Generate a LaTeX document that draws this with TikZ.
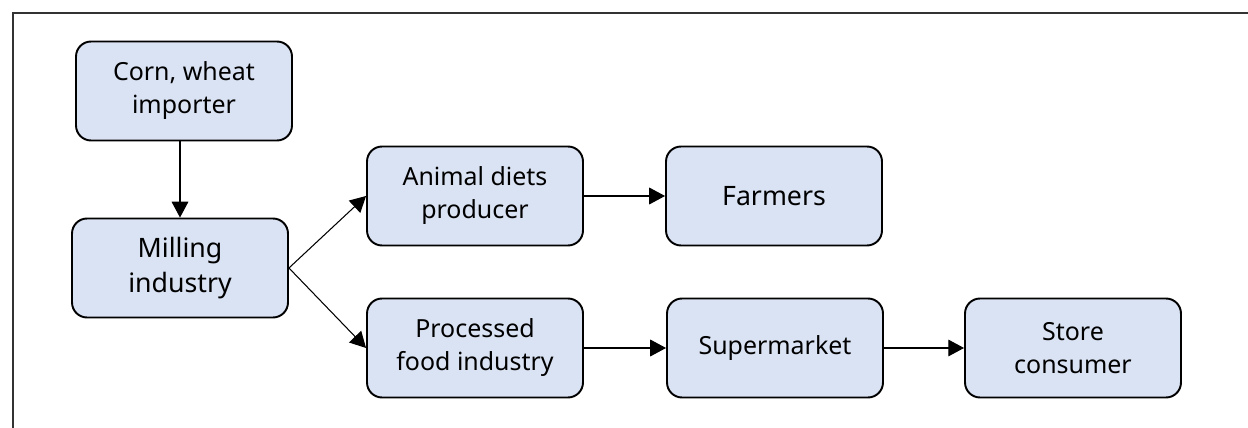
\documentclass[tikz,border=0pt]{standalone}
\usepackage{fontspec}
\setmainfont{Noto Sans}
\usepackage{tikz}
\usetikzlibrary{arrows.meta}
\usepackage{xcolor}
\definecolor{boxfill}{HTML}{DAE3F3}
\definecolor{framegray}{HTML}{333333}

\begin{document}
\begin{tikzpicture}[
    x=0.02cm, y=-0.02cm,
    stage/.style={
        draw=black,
        line width=1.1pt,
        rounded corners=0.3cm,
        minimum width=4.32cm,
        minimum height=1.98cm,
        fill=boxfill,
        align=center,
        font=\fontsize{14.2}{18.8}\selectfont,
        inner sep=2pt,
    },
    bigstage/.style={
        stage,
        font=\fontsize{15.2}{19.5}\selectfont,
    },
    flow/.style={
        draw=black,
        line width=0.6pt,
        -{Triangle[length=9pt, width=9.5pt]},
    },
]

\useasboundingbox (0,0) rectangle (1248,428);
\draw[framegray, line width=1.2pt] (1248,13) -- (13,13) -- (13,428);

\node[stage] (corn) at (184, 91) {Corn, wheat\\importer};
\node[bigstage] (mill) at (180, 268) {Milling\\industry};
\node[stage] (animal) at (475, 196) {Animal diets\\producer};
\node[stage] (proc) at (475, 348) {Processed\\food industry};
\node[bigstage] (farm) at (774, 196) {Farmers};
\node[stage] (super) at (775, 348) {Supermarket};
\node[stage] (store) at (1073, 348) {Store\\consumer};

\draw[flow] (mill.north |- corn.south) -- (mill.north);
\draw[flow] (mill.east) -- (animal.west);
\draw[flow] (mill.east) -- (proc.west);
\draw[flow] (animal) -- (farm);
\draw[flow] (proc) -- (super);
\draw[flow] (super) -- (store);

\end{tikzpicture}
\end{document}
